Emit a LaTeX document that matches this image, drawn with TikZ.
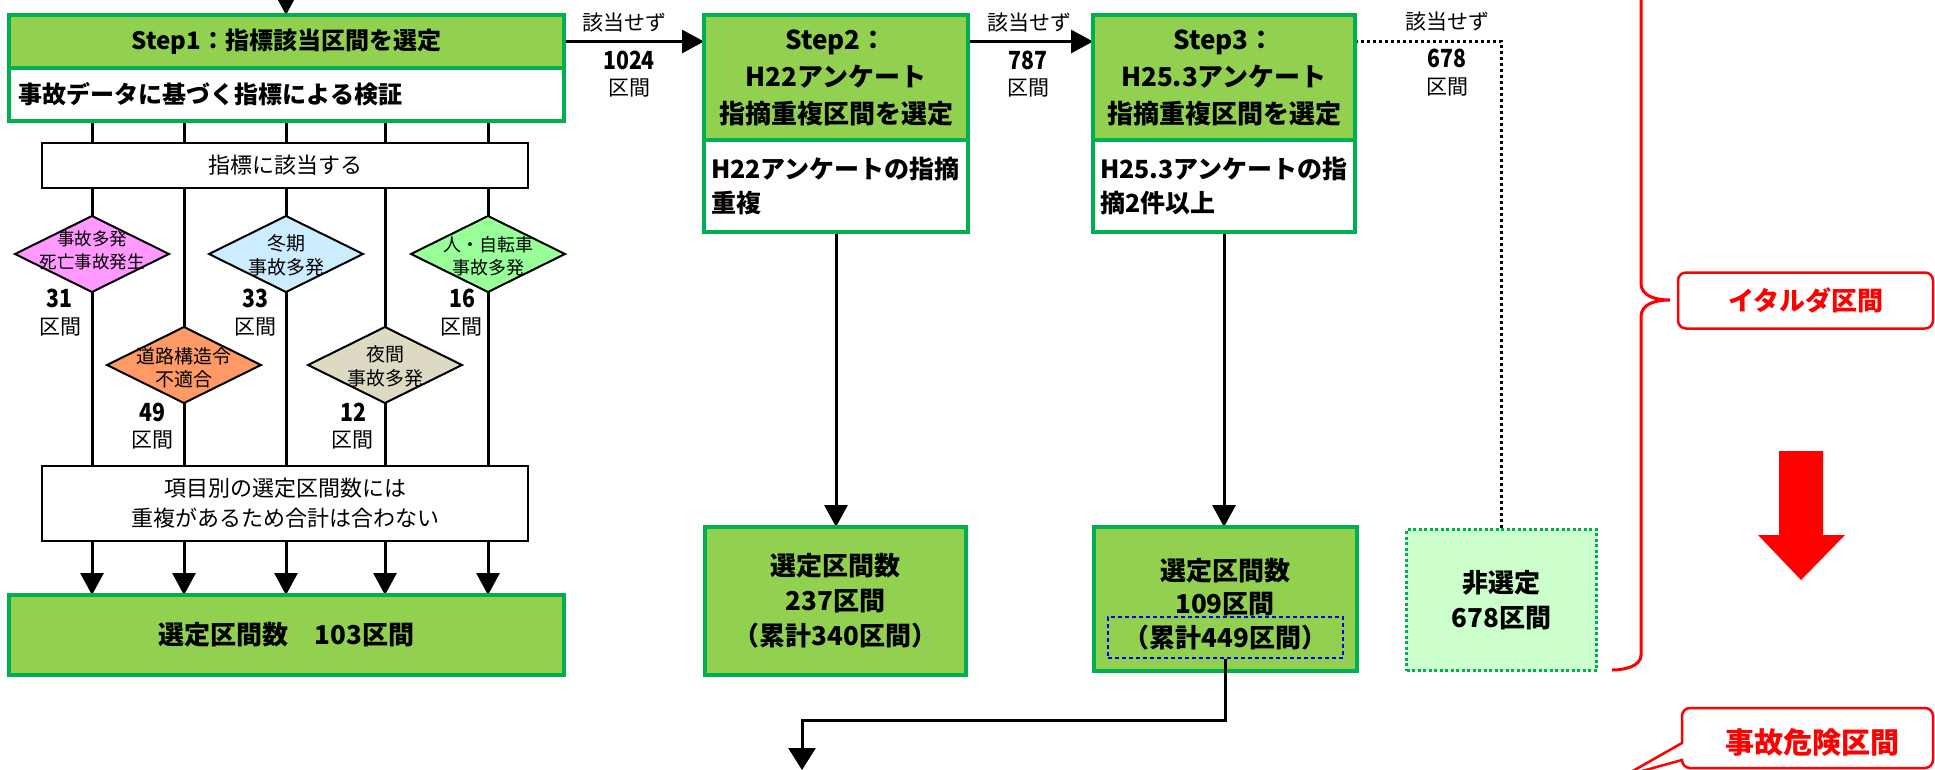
\documentclass[tikz,border=0pt]{standalone}
\usepackage{fontspec}
\usepackage{graphicx}
\setmainfont{Noto Sans CJK JP}
\usetikzlibrary{shapes.geometric,arrows.meta}
\pgfdeclarelayer{bg}
\pgfsetlayers{bg,main}
\newcommand{\FS}[2]{\fontsize{#1}{#2}\selectfont}
\newcommand{\DG}[1]{\scalebox{0.85}[1]{\FS{25}{28}\bfseries #1}}
\definecolor{gfill}{HTML}{92D050}
\definecolor{gborder}{HTML}{00B050}
\definecolor{cpink}{HTML}{FF99FF}
\definecolor{cblue}{HTML}{CCECFF}
\definecolor{cgreen}{HTML}{99FF99}
\definecolor{corange}{HTML}{FF9966}
\definecolor{ctan}{HTML}{DDD9C3}
\definecolor{cns}{HTML}{CCFFCC}
\definecolor{dblue}{HTML}{0000FF}
\definecolor{cred}{HTML}{FF0000}
\begin{document}
\begin{tikzpicture}[x=1pt,y=-1pt,
  gbox/.style={draw=gborder, line width=4pt, fill=gfill, inner sep=0pt, outer sep=0pt, align=center},
  wbody/.style={draw=gborder, line width=4pt, fill=white, outer sep=0pt, inner ysep=0pt, align=left},
  wbox/.style={draw=black, line width=2pt, fill=white, inner sep=0pt, outer sep=0pt, align=center, font=\FS{22}{30}},
  dia/.style={diamond, draw=black, line width=2pt, minimum width=154pt, minimum height=76pt, inner sep=0pt, outer sep=0pt},
  dtext/.style={align=center, inner sep=0pt},
  numl/.style={inner sep=0pt},
  kl/.style={inner sep=0pt, font=\FS{21}{25}},
  slbl/.style={inner sep=0pt, font=\FS{21}{25}},
  ln/.style={line width=3pt},
  arr/.style={ln, -{Triangle[width=23pt,length=22pt]}},
  arrb/.style={ln, -{Triangle[width=27pt,length=22pt]}},
  dotl/.style={line width=3pt, dash pattern=on 3pt off 3pt},
  redbox/.style={draw=cred, line width=2.5pt, rounded corners=8pt, fill=white, text=cred, inner sep=0pt},
]
\useasboundingbox (0,0) rectangle (1935,770);

% ---------- Step 1 ----------
\node[gbox, font=\FS{24}{28}\bfseries, minimum width=555pt, minimum height=53pt, anchor=north west] (s1h) at (9,15) {Step1：指標該当区間を選定};
\node[wbody, font=\FS{24}{28}\bfseries, text width=535pt, inner xsep=10pt, minimum height=53pt, anchor=north west] (s1b) at (s1h.south west) {事故データに基づく指標による検証};

\node[wbox, minimum width=486pt, minimum height=45pt] (ba) at (285,165.5) {指標に該当する};

\node[dia, fill=cpink] (d1) at (92,254) {};
\node[dtext, font=\FS{17.5}{23}] (d1t) at (92,250) {事故多発\\死亡事故発生};
\node[dia, fill=corange] (d2) at (184,365) {};
\node[dtext, font=\FS{19}{23}] (d2t) at (184,368) {道路構造令\\不適合};
\node[dia, fill=cblue] (d3) at (286,254) {};
\node[dtext, font=\FS{19}{24}] (d3t) at (286,255) {冬期\\事故多発};
\node[dia, fill=ctan] (d4) at (385,365) {};
\node[dtext, font=\FS{19}{24}] (d4t) at (385,366) {夜間\\事故多発};
\node[dia, fill=cgreen] (d5) at (488,254) {};
\node[dtext, font=\FS{18}{23}] (d5t) at (488,256) {人・自転車\\事故多発};

\node[numl] (l1n) at (59,298) {\DG{31}};
\node[kl] (l1k) at (60,327) {区間};
\node[numl] (l3n) at (255,298) {\DG{33}};
\node[kl] (l3k) at (255,327) {区間};
\node[numl] (l5n) at (462,298) {\DG{16}};
\node[kl] (l5k) at (461,327) {区間};
\node[numl] (l2n) at (152,412) {\DG{49}};
\node[kl] (l2k) at (152,440) {区間};
\node[numl] (l4n) at (353,412) {\DG{12}};
\node[kl] (l4k) at (352,440) {区間};

\node[wbox, minimum width=486pt, minimum height=75pt] (bb) at (285,503.5) {項目別の選定区間数には\\重複があるため合計は合わない};

\node[gbox, font=\FS{26}{30}\bfseries, minimum width=555pt, minimum height=80pt, anchor=north west] (f1) at (9,595) {選定区間数　103区間};

% ---------- Step 2 ----------
\node[gbox, font=\FS{26}{37}\bfseries, minimum width=264pt, minimum height=125pt, anchor=north west] (s2h) at (704,15) {Step2：\\H22アンケート\\指摘重複区間を選定};
\node[wbody, font=\FS{25}{34}\bfseries, text width=250pt, inner xsep=7pt, minimum height=92pt, anchor=north west] (s2b) at (s2h.south west) {H22アンケートの指摘\\重複};

\node[gbox, font=\FS{26}{35}\bfseries, minimum width=261pt, minimum height=148pt, anchor=north west] (r2) at (705,527) {選定区間数\\237区間\\（累計340区間）};

% ---------- Step 3 ----------
\node[gbox, font=\FS{26}{37}\bfseries, minimum width=262pt, minimum height=125pt, anchor=north west] (s3h) at (1093,15) {Step3：\\H25.3アンケート\\指摘重複区間を選定};
\node[wbody, font=\FS{25}{34}\bfseries, text width=248pt, inner xsep=7pt, minimum height=92pt, anchor=north west] (s3b) at (s3h.south west) {H25.3アンケートの指\\摘2件以上};

\node[gbox, minimum width=263pt, minimum height=144pt, anchor=north west] (r3) at (1094,527) {};
\node[dtext, font=\FS{26}{33}\bfseries] (r3t) at (1225,587) {選定区間数\\109区間};
\node[draw=dblue, line width=1.5pt, dash pattern=on 4pt off 3pt, inner sep=0pt, minimum width=235pt, minimum height=41pt, font=\FS{26}{30}\bfseries] (cum) at (1225.5,637.5) {（累計449区間）};

% ---------- not selected ----------
\node[draw=gborder, line width=3pt, dash pattern=on 3pt off 2.5pt, fill=cns, inner sep=0pt, outer sep=0pt, minimum width=190pt, minimum height=141pt, font=\FS{26}{35}\bfseries, align=center] (ns) at (1501.5,600) {非選定\\678区間};

% ---------- labels on step arrows ----------
\node[slbl] (g1) at (624,23) {該当せず};
\node[numl] (n1n) at (629,60) {\DG{1024}};
\node[kl] (n1k) at (629,88) {区間};
\node[slbl] (g2) at (1029,23) {該当せず};
\node[numl] (n2n) at (1028,60) {\DG{787}};
\node[kl] (n2k) at (1028,88) {区間};
\node[slbl] (g3) at (1447,22) {該当せず};
\node[numl] (n3n) at (1447,58) {\DG{678}};
\node[kl] (n3k) at (1447,87) {区間};

% ---------- connectors ----------
\coordinate (top) at (286,-10);
\begin{pgfonlayer}{bg}
  \draw[arr] (top) -- (top |- s1h.north);
  \foreach \d in {d1,d2,d3,d4,d5}{
    \draw[ln] (s1b.south -| \d.north) -- (\d.north);
    \draw[arr] (\d.south) -- (\d.south |- f1.north);
  }
  \draw[arr] (s1h.east) -- (s1h.east -| s2h.west);
  \draw[arr] (s1h.east -| s2h.east) -- (s1h.east -| s3h.west);
  \draw[dotl] (s1h.east -| s3h.east) -- (s1h.east -| ns.north) -- (ns.north);
  \draw[arr] (s2b.south) -- (s2b.south |- r2.north);
  \draw[arr] (s3b.south) -- (s3b.south |- r3.north);
\end{pgfonlayer}
\coordinate (elb) at (802,720);
\coordinate (bot) at (802,770);
\draw[arrb] (cum.south) |- (elb) -- (bot);

% ---------- right side ----------
\draw[cred, line width=3pt] (1641,-10) -- (1641,283) .. controls (1641,296) and (1655,300) .. (1670,300)
  .. controls (1655,300) and (1641,304) .. (1641,317) -- (1641,655) .. controls (1641,666) and (1625,670) .. (1612,670);
\node[redbox, minimum width=255pt, minimum height=56pt, font=\FS{26}{30}\bfseries] (it) at (1805.5,300.5) {イタルダ区間};

\fill[cred] (1779,451) -- (1823,451) -- (1823,535) -- (1845,535) -- (1801,580) -- (1758,535) -- (1779,535) -- cycle;

\draw[draw=cred, line width=2.5pt, fill=white] (1682,743) [rounded corners=8pt] -- (1682,708) -- (1933,708) -- (1933,768) -- (1682,768) [sharp corners] -- (1682,760) -- (1624,776) -- cycle;
\node[text=cred, inner sep=0pt, font=\FS{29}{32}\bfseries] (kk) at (1812,742) {事故危険区間};
\end{tikzpicture}
\end{document}
